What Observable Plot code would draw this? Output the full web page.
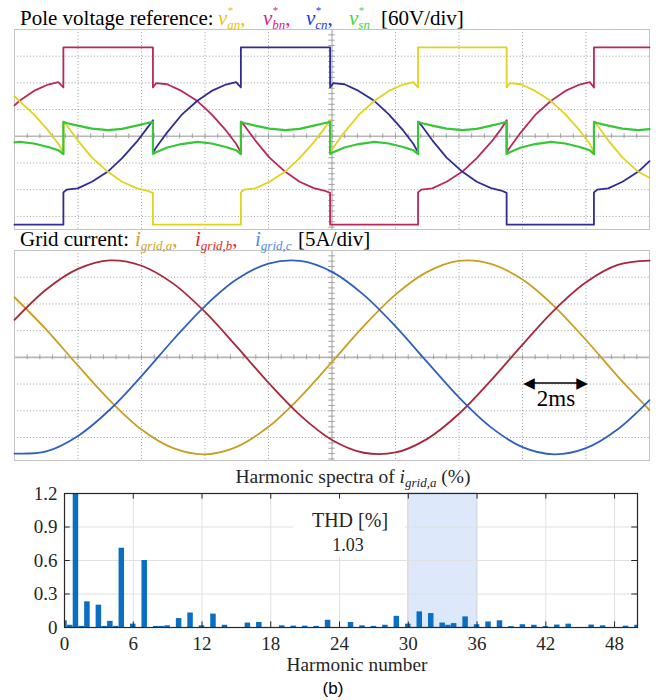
<!DOCTYPE html>
<html>
<head>
<meta charset="utf-8">
<script src="https://cdn.jsdelivr.net/npm/d3@7"></script>
<script src="https://cdn.jsdelivr.net/npm/@observablehq/plot@0.6"></script>
<style>
  body { margin: 0; background: #fff; }
  #root { position: relative; width: 656px; height: 700px; overflow: hidden; background: #fff; }
  .ttl { position: absolute; white-space: nowrap; font-family: "Liberation Serif", "Times New Roman", serif; z-index: 2; }
  .ss { position: relative; display: inline-block; font-size: 13px; font-style: italic; line-height: 21px; }
  .ss .sb { position: relative; top: 4px; }
  .ss .sp { position: absolute; left: 0.5px; top: -4.8px; display: block; font-size: 11px; line-height: 11px; font-style: normal; }
  .sub2 { position: relative; top: 4px; font-size: 13px; font-style: italic; }
</style>
</head>
<body>
<div id="root">
  <!-- Panel 1 title -->
  <div class="ttl" style="left:20px;top:8px;font-size:21px;line-height:21px;color:#000">Pole voltage reference:</div>
  <div class="ttl" style="left:218px;top:8px;font-size:21px;line-height:21px;color:#f0c010"><i>v</i><span class="ss"><span class="sp">*</span><span class="sb">an</span></span>,</div>
  <div class="ttl" style="left:263px;top:8px;font-size:21px;line-height:21px;color:#e0207f"><i>v</i><span class="ss"><span class="sp">*</span><span class="sb">bn</span></span>,</div>
  <div class="ttl" style="left:306px;top:8px;font-size:21px;line-height:21px;color:#2034f0"><i>v</i><span class="ss"><span class="sp">*</span><span class="sb">cn</span></span>,</div>
  <div class="ttl" style="left:349px;top:8px;font-size:21px;line-height:21px;color:#3ad83a"><i>v</i><span class="ss"><span class="sp">*</span><span class="sb">sn</span></span></div>
  <div class="ttl" style="left:381px;top:8px;font-size:21px;line-height:21px;color:#000">[60V/div]</div>

  <!-- Panel 2 title -->
  <div class="ttl" style="left:20px;top:229px;font-size:21px;line-height:21px;color:#000">Grid current:</div>
  <div class="ttl" style="left:135px;top:229px;font-size:21px;line-height:21px;color:#cfa024"><i>i</i><span class="ss"><span class="sb">grid,a</span></span>,</div>
  <div class="ttl" style="left:195px;top:229px;font-size:21px;line-height:21px;color:#ec2427"><i>i</i><span class="ss"><span class="sb">grid,b</span></span>,</div>
  <div class="ttl" style="left:255px;top:229px;font-size:21px;line-height:21px;color:#4a8ee6"><i>i</i><span class="ss"><span class="sb">grid,c</span></span></div>
  <div class="ttl" style="left:298px;top:229px;font-size:21px;line-height:21px;color:#000">[5A/div]</div>

  <div class="ttl" style="left:556px;top:387px;font-size:23px;line-height:23px;color:#000;transform:translateX(-50%)">2ms</div>

  <!-- Panel 3 texts -->
  <div class="ttl" style="left:353px;top:467px;font-size:19.5px;line-height:19.5px;color:#262626;transform:translateX(-50%)">Harmonic spectra of <i>i</i><span class="sub2">grid,a</span> (%)</div>
  <div class="ttl" style="left:350px;top:510px;font-size:20px;line-height:20px;color:#262626;transform:translateX(-50%)">THD [%]</div>
  <div class="ttl" style="left:348px;top:536px;font-size:18px;line-height:18px;color:#262626;transform:translateX(-50%)">1.03</div>
  <div class="ttl" style="left:357px;top:655px;font-size:19.3px;line-height:19.3px;color:#262626;transform:translateX(-50%)">Harmonic number</div>
  <div class="ttl" style="left:333px;top:680px;font-size:17px;line-height:17px;color:#000;font-family:'Liberation Sans',Arial,sans-serif;transform:translateX(-50%)">(b)</div>
</div>
<script>
// ---------- Panel 1: pole voltage references (time in ms, value in div) ----------
const tPole = [
  0, 0.16, 0.61, 1.06, 1.38, 1.54,
  1.54, 1.64, 1.99, 2.44, 2.94, 3.39, 3.84, 4.16, 4.36,
  4.36, 4.46, 4.81, 5.26, 5.76, 6.21, 6.66, 6.98, 7.13,
  7.13, 7.23, 7.58, 8.03, 8.53, 8.98, 9.43, 9.75, 9.94,
  9.94, 10.04, 10.39, 10.84, 11.34, 11.79, 12.24, 12.56, 12.71,
  12.71, 12.81, 13.16, 13.61, 14.11, 14.56, 15.01, 15.33, 15.5,
  15.5, 15.6, 15.95, 16.4, 16.9, 17.35, 17.8, 18.12, 18.25,
  18.25, 18.35, 18.7, 19.15, 19.65, 20
];
const vAn = [
  1.5, 1.32, 0.82, 0.22, -0.28, -0.6,
  0.55, 0.42, -0.15, -0.8, -1.33, -1.7, -1.94, -2.03, -2.12,
  -3.31, -3.31, -3.31, -3.31, -3.31, -3.31, -3.31, -3.31, -3.31,
  -2.1, -2.0, -1.95, -1.7, -1.32, -0.82, -0.22, 0.28, 0.6,
  -0.62, -0.42, 0.15, 0.8, 1.33, 1.7, 1.94, 2.03, 1.83,
  3.33, 3.33, 3.33, 3.33, 3.33, 3.33, 3.33, 3.33, 3.33,
  1.83, 1.99, 1.95, 1.7, 1.32, 0.82, 0.22, -0.28, -0.6,
  0.55, 0.42, -0.15, -0.8, -1.33, -1.55
];
const vBn = [
  1.16, 1.33, 1.7, 1.94, 2.03, 1.83,
  3.33, 3.33, 3.33, 3.33, 3.33, 3.33, 3.33, 3.33, 3.33,
  1.83, 1.99, 1.95, 1.7, 1.32, 0.82, 0.22, -0.28, -0.6,
  0.55, 0.42, -0.15, -0.8, -1.33, -1.7, -1.94, -2.03, -2.12,
  -3.31, -3.31, -3.31, -3.31, -3.31, -3.31, -3.31, -3.31, -3.31,
  -2.1, -2.0, -1.95, -1.7, -1.32, -0.82, -0.22, 0.28, 0.6,
  -0.62, -0.42, 0.15, 0.8, 1.33, 1.7, 1.94, 2.03, 1.83,
  3.33, 3.33, 3.33, 3.33, 3.33, 3.33
];
const vCn = [
  -3.31, -3.31, -3.31, -3.31, -3.31, -3.31,
  -2.1, -2.0, -1.95, -1.7, -1.32, -0.82, -0.22, 0.28, 0.6,
  -0.62, -0.42, 0.15, 0.8, 1.33, 1.7, 1.94, 2.03, 1.83,
  3.33, 3.33, 3.33, 3.33, 3.33, 3.33, 3.33, 3.33, 3.33,
  1.83, 1.99, 1.95, 1.7, 1.32, 0.82, 0.22, -0.28, -0.6,
  0.55, 0.42, -0.15, -0.8, -1.33, -1.7, -1.94, -2.03, -2.12,
  -3.31, -3.31, -3.31, -3.31, -3.31, -3.31, -3.31, -3.31, -3.31,
  -2.1, -2.0, -1.95, -1.7, -1.32, -0.93
];
const vSn = [
  -0.23, -0.21, -0.27, -0.4, -0.52, -0.67,
  0.54, 0.5, 0.4, 0.29, 0.23, 0.28, 0.4, 0.49, 0.54,
  -0.66, -0.6, -0.42, -0.29, -0.21, -0.27, -0.4, -0.52, -0.67,
  0.54, 0.5, 0.4, 0.29, 0.23, 0.28, 0.4, 0.49, 0.54,
  -0.66, -0.6, -0.42, -0.29, -0.21, -0.27, -0.4, -0.52, -0.67,
  0.54, 0.5, 0.4, 0.29, 0.23, 0.28, 0.4, 0.49, 0.54,
  -0.66, -0.6, -0.42, -0.29, -0.21, -0.27, -0.4, -0.52, -0.67,
  0.54, 0.5, 0.4, 0.29, 0.23, 0.27
];

// ---------- Panel 2: grid currents (time in ms, value in div) ----------
const tGrid = [0, 1, 2, 3, 4, 5, 6, 7, 8, 9, 10, 11, 12, 13, 14, 15, 16, 17, 18, 19, 20];
const iA = [2.25, 1.04, -0.31, -1.61, -2.70, -3.40, -3.63, -3.35, -2.60, -1.49, -0.17, 1.17, 2.35, 3.20, 3.61, 3.50, 2.91, 1.91, 0.65, -0.71, -1.97];
const iB = [1.40, 2.54, 3.31, 3.63, 3.43, 2.76, 1.70, 0.40, -0.95, -2.17, -3.09, -3.57, -3.56, -3.05, -2.11, -0.87, 0.48, 1.77, 2.81, 3.46, 3.62];
const iC = [-3.60, -3.52, -2.94, -1.96, -0.70, 0.66, 1.92, 2.92, 3.51, 3.61, 3.20, 2.34, 1.16, -0.18, -1.50, -2.61, -3.36, -3.63, -3.40, -2.69, -1.60];

// ---------- Panel 3: harmonic spectrum of i_grid,a (%) ----------
const harmOrder = [0, 0.5, 1, 1.5, 2, 3, 3.5, 4, 4.5, 5, 6, 7, 8, 8.5, 9, 10, 11, 12, 13, 14, 16, 17, 19, 20, 21, 22, 23, 25, 26, 27, 28, 29, 30, 31, 32, 33, 33.5, 34, 35, 36, 37, 38, 39, 40, 41, 42, 43, 44, 46, 47, 49, 50];
const harmMag   = [0.06, 0.02, 100, 0.01, 0.23, 0.2, 0.01, 0.055, 0.01, 0.71, 0.03, 0.6, 0.01, 0.01, 0.015, 0.08, 0.13, 0.015, 0.12, 0.02, 0.04, 0.045, 0.015, 0.012, 0.012, 0.01, 0.065, 0.045, 0.015, 0.01, 0.02, 0.1, 0.03, 0.14, 0.125, 0.04, 0.02, 0.035, 0.095, 0.025, 0.05, 0.06, 0.008, 0.025, 0.02, 0.008, 0.022, 0.03, 0.022, 0.015, 0.012, 0.02];
const xTicks = [0, 6, 12, 18, 24, 30, 36, 42, 48];
const yTicks = [0, 0.3, 0.6, 0.9, 1.2];
const thdBand = [30, 36];

// graticule (scope divisions: 2 ms/div horizontally, 1 div vertically)
const divT = [0, 2, 4, 6, 8, 10, 12, 14, 16, 18, 20];
const divV = [-3, -2, -1, 0, 1, 2, 3, 4];

const root = document.getElementById("root");
function put(svg, top) {
  svg.style.position = "absolute";
  svg.style.left = "0px";
  svg.style.top = top + "px";
  svg.style.zIndex = 1;
  root.appendChild(svg);
}

function scope(data, yDomain, height, series, extra) {
  const minorT = d3.range(0, 20.001, 0.4);
  const minorV = d3.range(Math.ceil(yDomain[0] / 0.2) * 0.2, yDomain[1], 0.2);
  return Plot.plot({
    width: 656, height,
    marginLeft: 14, marginRight: 7, marginTop: 0, marginBottom: 0,
    style: {background: "transparent", overflow: "visible"},
    x: {domain: [0, 20], axis: null},
    y: {domain: yDomain, axis: null},
    marks: [
      Plot.ruleX(divT.filter(d => d > 0 && d < 20 && d !== 10), {stroke: "#9c9c9c", strokeDasharray: "1,2.2"}),
      Plot.ruleY(divV.filter(d => d !== 0 && d > yDomain[0] && d < yDomain[1]), {stroke: "#9c9c9c", strokeDasharray: "1,2.2"}),
      Plot.ruleX([10], {stroke: "#b8b8b8", strokeWidth: 1.4}),
      Plot.ruleY([0], {stroke: "#b8b8b8", strokeWidth: 1.6}),
      Plot.ruleX(minorT, {y1: -0.09, y2: 0.09, stroke: "#a0a0a0"}),
      Plot.ruleY(minorV, {x1: 9.9, x2: 10.1, stroke: "#a0a0a0"}),
      Plot.frame({stroke: "#c4c4c4"}),
      ...series.map(s => Plot.line(data, {x: "t", y: s.key, stroke: s.color, strokeWidth: s.w || 1.8, curve: s.curve || "linear"})),
      ...(extra || [])
    ]
  });
}

// Panel 1
const pole = tPole.map((t, i) => ({t, van: vAn[i], vbn: vBn[i], vcn: vCn[i], vsn: vSn[i]}));
put(scope(pole, [-3.49, 4.0], 200, [
  {key: "vbn", color: "#b8285f"},
  {key: "vcn", color: "#2e2e92"},
  {key: "van", color: "#e0d41c"},
  {key: "vsn", color: "#36c636", w: 2.2}
]), 29);

// Panel 2
const grid = tGrid.map((t, i) => ({t, ia: iA[i], ib: iB[i], ic: iC[i]}));
put(scope(grid, [-3.86, 4.0], 210, [
  {key: "ia", color: "#c6a021", curve: "catmull-rom"},
  {key: "ib", color: "#a8283b", curve: "catmull-rom"},
  {key: "ic", color: "#2f60c0", curve: "catmull-rom"}
], [
  Plot.link([0], {x1: 16.3, x2: 17.8, y1: -0.96, y2: -0.96, stroke: "#000", strokeWidth: 1.6}),
  Plot.text([0], {x: 16.02, y: -0.96, text: () => "◀", textAnchor: "start", fontSize: 15, fontFamily: "DejaVu Sans", fill: "#000"}),
  Plot.text([0], {x: 18.06, y: -0.96, text: () => "▶", textAnchor: "end", fontSize: 15, fontFamily: "DejaVu Sans", fill: "#000"})
]), 250);

// Panel 3
const harm = harmOrder.map((h, i) => ({h, v: harmMag[i]}));
const bars = Plot.plot({
  width: 656, height: 235,
  marginLeft: 64, marginRight: 19, marginTop: 28, marginBottom: 73,
  style: {background: "transparent", fontFamily: "Liberation Serif, Times New Roman, serif", fontSize: "19px", color: "#262626", overflow: "visible"},
  x: {domain: [0, 50], ticks: xTicks, tickSize: 0, tickPadding: 9, tickFormat: d => String(d), label: null},
  y: {domain: [0, 1.2], ticks: yTicks, tickSize: 0, tickPadding: 7, tickFormat: d => String(d), label: null},
  marks: [
    Plot.rect([thdBand], {x1: d => d[0], x2: d => d[1], y1: 0, y2: 1.2, fill: "#dde9fb", stroke: "#c3d4ee"}),
    Plot.ruleX(xTicks.filter(d => d > 0), {stroke: "#e0e0e0"}),
    Plot.ruleY(yTicks.filter(d => d > 0 && d < 1.2), {stroke: "#e0e0e0"}),
    Plot.rect([0], {x1: 20, x2: 29.75, y1: 0.63, y2: 1.19, fill: "#fff"}),
    Plot.rect(harm, {x1: d => d.h - 0.24, x2: d => d.h + 0.24, y1: 0, y2: "v", fill: "#0a6fc2", clip: true}),
    Plot.ruleX(xTicks.filter(d => d > 0), {y1: 0, y2: 0.05, stroke: "#262626"}),
    Plot.ruleX(xTicks.filter(d => d > 0), {y1: 1.15, y2: 1.2, stroke: "#262626"}),
    Plot.ruleY(yTicks.filter(d => d > 0 && d < 1.2), {x1: 0, x2: 0.5, stroke: "#262626"}),
    Plot.ruleY(yTicks.filter(d => d > 0 && d < 1.2), {x1: 49.5, x2: 50, stroke: "#262626"}),
    Plot.frame({stroke: "#262626", strokeWidth: 1.2})
  ]
});
put(bars, 465);
</script>
</body>
</html>
